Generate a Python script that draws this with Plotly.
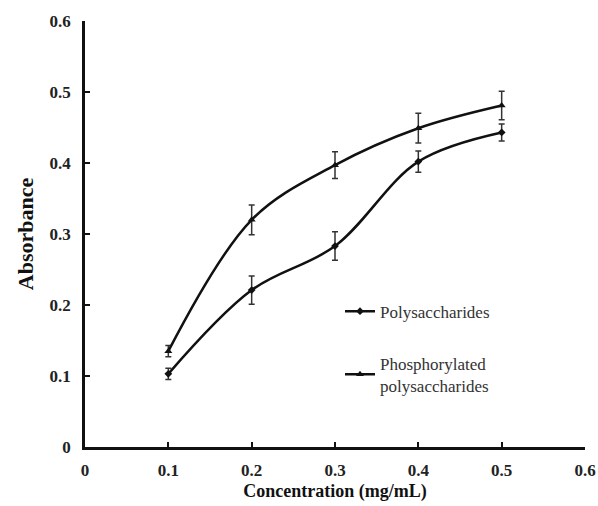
import plotly.graph_objects as go

conc = [0.1, 0.2, 0.3, 0.4, 0.5]
poly = [0.103, 0.221, 0.283, 0.402, 0.443]
poly_err = [0.008, 0.020, 0.020, 0.015, 0.012]
phos = [0.135, 0.320, 0.397, 0.449, 0.481]
phos_err = [0.008, 0.021, 0.019, 0.021, 0.020]
tick_vals = [0, 0.1, 0.2, 0.3, 0.4, 0.5, 0.6]
tick_text = ["0", "0.1", "0.2", "0.3", "0.4", "0.5", "0.6"]

font_family = "Liberation Serif, Times New Roman, serif"

fig = go.Figure()
fig.add_trace(go.Scatter(
    x=conc, y=poly, name="Polysaccharides", legendgroup="a",
    mode="lines+markers", line=dict(color="#111111", width=2.5, shape="spline", smoothing=1.0),
    marker=dict(symbol="diamond", size=6, color="#111111"),
    error_y=dict(type="data", array=poly_err, color="#333333", thickness=1.5, width=3),
))
fig.add_trace(go.Scatter(
    x=conc, y=phos, name="Phosphorylated<br>polysaccharides", legendgroup="b",
    mode="lines+markers", line=dict(color="#111111", width=2.5, shape="spline", smoothing=1.0),
    marker=dict(symbol="triangle-up", size=7, color="#111111"),
    error_y=dict(type="data", array=phos_err, color="#333333", thickness=1.5, width=3),
))

axis_common = dict(
    showline=True, linecolor="#111111", linewidth=2.5, showgrid=False, zeroline=False,
    ticks="inside", ticklen=5, tickwidth=2, tickcolor="#111111",
    tickvals=tick_vals, ticktext=tick_text,
    tickfont=dict(family=font_family, size=17, color="#222222", weight="bold"),
    range=[0, 0.6], automargin=False, ticklabeloverflow="allow",
)

fig.update_layout(
    width=598, height=506,
    margin=dict(l=85, r=13, t=21, b=59),
    paper_bgcolor="white", plot_bgcolor="white",
    font=dict(family=font_family, color="#222222"),
    xaxis=dict(**axis_common, ticklabelstandoff=6,
               title=dict(text="Concentration (mg/mL)", standoff=6,
                          font=dict(family=font_family, size=18, color="#111111", weight="bold"))),
    yaxis=dict(**axis_common, ticklabelstandoff=8,
               title=dict(text="Absorbance", standoff=10,
                          font=dict(family=font_family, size=22, color="#111111", weight="bold"))),
    legend=dict(x=0.51, y=0.36, xanchor="left", yanchor="top",
                font=dict(family=font_family, size=17, color="#333333"),
                tracegroupgap=27, itemwidth=30, bgcolor="rgba(0,0,0,0)"),
)

fig.write_html("out.html", config={"displayModeBar": False},
               post_script="document.body.style.margin='0';document.body.style.overflow='hidden';")
